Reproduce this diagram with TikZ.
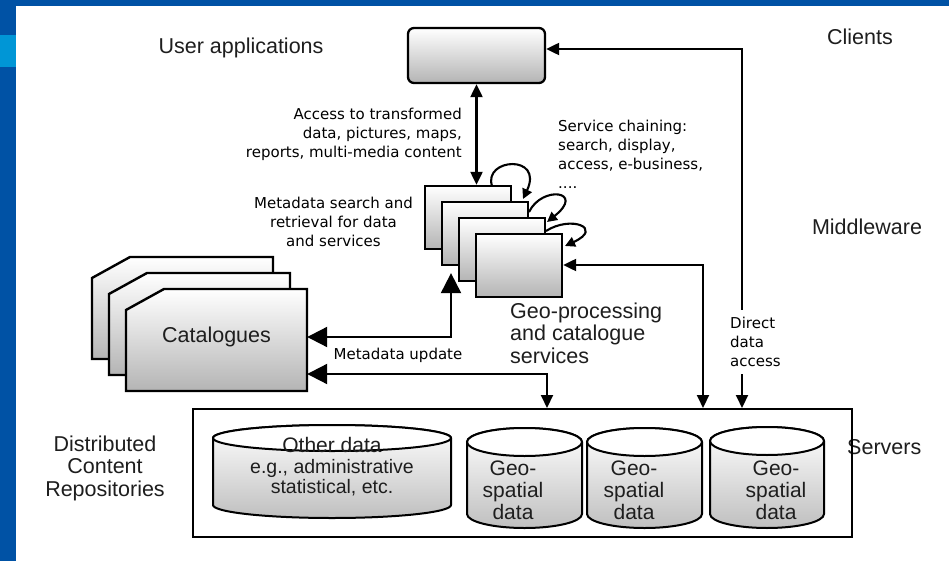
\documentclass[tikz,border=0pt]{standalone}
\usepackage{fontspec}
\setmainfont{Liberation Sans}
\newfontfamily\verd{DejaVu Sans}
\usetikzlibrary{arrows.meta}
\definecolor{slideblue}{HTML}{0052A5}
\definecolor{slidelight}{HTML}{0096D6}
\definecolor{txt}{HTML}{1E1E1E}
\definecolor{shadeend}{HTML}{B4B4B4}
\newcommand{\mycyl}[5]{%
  \path[cylbody] (#1,-#3) -- (#1,-#4) arc[start angle=180,end angle=360,x radius={(#2-#1)/2},y radius=#5]
     -- (#2,-#3) arc[start angle=0,end angle=180,x radius={(#2-#1)/2},y radius=#5] -- cycle;
  \path[cyltop] ({(#1+#2)/2},-#3) ellipse[x radius={(#2-#1)/2},y radius=#5];
}
\tikzset{
  smallhead/.tip={Triangle[length=13pt,width=12pt]},
  bighead/.tip={Triangle[length=20pt,width=20pt]},
  loophead/.tip={Triangle[length=10pt,width=10pt]},
  lbl/.style={font=\fontsize{21.5}{22.5}\selectfont, text=txt, inner sep=0pt},
  cyltxt/.style={font=\fontsize{21}{22}\selectfont, text=txt, inner sep=0pt, align=center},
  smalltxt/.style={font=\fontsize{19.5}{20}\selectfont, text=txt, inner sep=0pt, align=center},
  note/.style={font=\verd\fontsize{15}{19}\selectfont, text=black, inner sep=0pt},
  gbox/.style={draw, line width=2.3pt, top color=white, bottom color=shadeend,
    minimum width=86pt, minimum height=63pt, inner sep=0pt},
  appbox/.style={draw, line width=2.3pt, rounded corners=6pt, top color=white, bottom color=shadeend,
    minimum width=137pt, minimum height=55pt, inner sep=0pt},
  card/.style={draw, line width=2.4pt, line join=miter, top color=white, bottom color=shadeend},
  srvbox/.style={draw, line width=2pt, minimum width=659pt, minimum height=128pt, inner sep=0pt},
  cylbody/.style={draw, line width=2pt, top color=white, bottom color=shadeend!85!white},
  cyltop/.style={draw, line width=2pt, fill=white},
  con/.style={line width=2.1pt},
  chain/.style={line width=2.1pt, -{loophead}},
}
\begin{document}
\begin{tikzpicture}[x=1pt,y=1pt]
\useasboundingbox (0,0) rectangle (949,-561);
\fill[white] (0,0) rectangle (949,-561);
\fill[slideblue] (0,0) rectangle (949,-6);
\fill[slideblue] (0,0) rectangle (16,-561);
\fill[slidelight] (0,-35) rectangle (16,-67);

% layer labels
\node[lbl] (ua) at (241,-48) {User applications};
\node[lbl] (cl) at (860,-37) {Clients};
\node[lbl] (mw) at (867,-227) {Middleware};
\node[lbl, anchor=west] (sv) at (847,-447) {Servers};
\node[lbl, align=center] (dcr) at (105,-468) {Distributed\\Content\\Repositories};

% user application box
\node[appbox] (app) at (476.5,-55.5) {};

% geo-processing stack
\node[gbox] (g1) at (468,-217.5) {};
\node[gbox] (g2) at (485,-233.5) {};
\node[gbox] (g3) at (502,-249.5) {};
\node[gbox] (g4) at (519,-265.5) {};

% catalogue cards
\foreach \dx/\dy in {0/0,17/16,34/32}{
  \path[card] ({92+\dx},{-278-\dy}) -- ({130+\dx},{-257-\dy}) -- ({273+\dx},{-257-\dy})
     -- ({273+\dx},{-359-\dy}) -- ({92+\dx},{-359-\dy}) -- cycle;
}
\node[lbl, minimum width=181pt, minimum height=96pt] (cat) at (216.5,-337) {Catalogues};

% servers box and repositories
\node[srvbox] (srv) at (522.5,-473) {};
\mycyl{213}{451}{438}{505}{13}
\mycyl{467}{582}{442}{514}{14}
\mycyl{587}{702}{442}{514}{14}
\mycyl{710}{824}{441}{514}{14}
\node[cyltxt] (od) at (332,-445) {Other data};
\node[smalltxt] (odx) at (332,-478) {e.g., administrative\\statistical, etc.};
\node[cyltxt] (gs1) at (513,-490) {Geo-\\spatial\\data};
\node[cyltxt] (gs2) at (634,-490) {Geo-\\spatial\\data};
\node[cyltxt] (gs3) at (776,-490) {Geo-\\spatial\\data};

% service label
\node[lbl, align=left, anchor=west] (gpl) at (510,-333) {Geo-processing\\and catalogue\\services};

% notes
\node[note, align=right, anchor=east] (acc) at (462,-134) {Access to transformed\\data, pictures, maps,\\reports, multi-media content};
\node[note, align=center] (mds) at (333.5,-222) {Metadata search and\\retrieval for data\\and services};
\node[note, align=left, anchor=west] (sch) at (558,-154) {Service chaining:\\search, display,\\access, e-business,\\....};
\node[note] (mdu) at (398,-355) {Metadata update};

% connectors
\draw[con, {smallhead}-{smallhead}] (app.south) -- (app.south |- g1.north);

\coordinate (dd) at (742,-49);
\draw[con, {smallhead}-{smallhead}] (app.east |- dd) -- (dd) -- (dd |- srv.north);
\node[note, align=left, anchor=west, fill=white, inner xsep=1pt, inner ysep=7pt] (dda) at (729,-342) {Direct\\data\\access};

\coordinate (gs) at (703,-265);
\draw[con, {smallhead}-{smallhead}] (g4.east |- gs) -- (gs) -- (gs |- srv.north);

\coordinate (ms) at (451,-337);
\draw[con, {bighead}-{bighead}, shorten >=7pt] (cat.east |- ms) -- (ms) -- (ms |- g2.south);

\coordinate (mu) at (547,-374);
\draw[con, {bighead}-{smallhead}] (cat.east |- mu) -- (mu) -- (mu |- srv.north);

% service chaining loops
\draw[chain] (492,-186) .. controls (483,-158) and (544,-154) .. (523,-199);
\draw[chain] (529,-212) .. controls (542,-185) and (586,-191) .. (547,-222);
\draw[chain] (546,-231) .. controls (571,-215) and (604,-228) .. (565,-246);
\end{tikzpicture}
\end{document}
